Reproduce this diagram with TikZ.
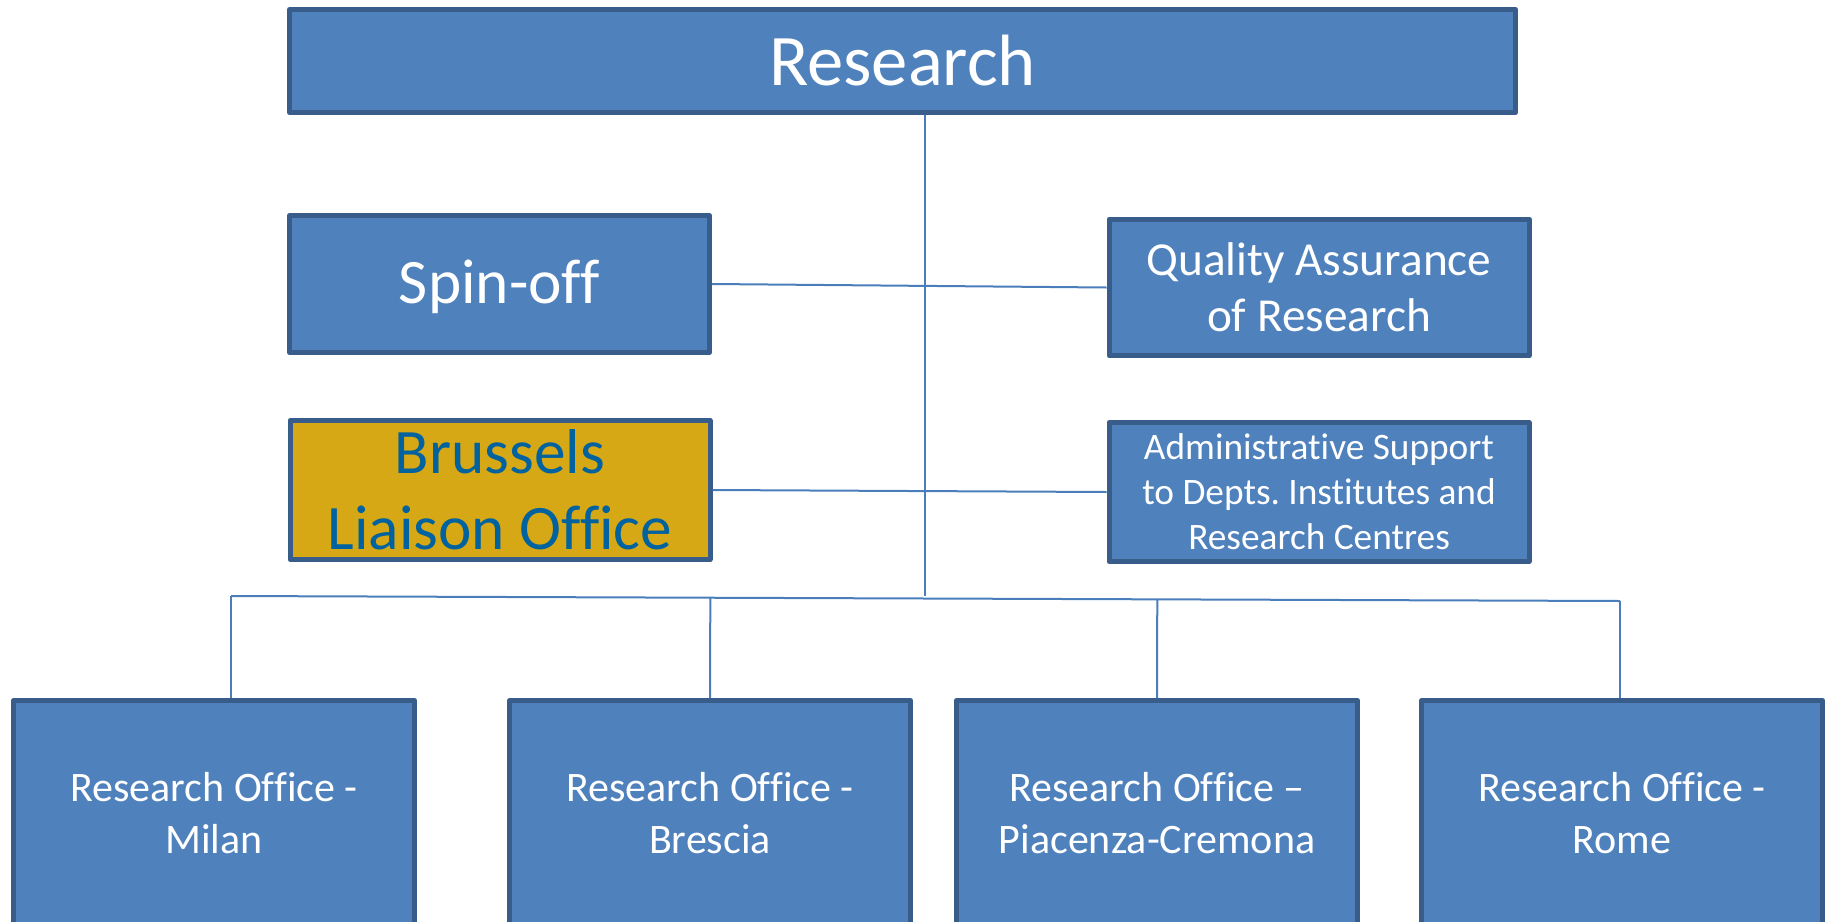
\documentclass[tikz,border=0pt]{standalone}
\usepackage{fontspec}
\setmainfont{Carlito}[Ligatures=NoCommon]
\usetikzlibrary{calc}
\frenchspacing

\definecolor{boxfill}{RGB}{79,129,189}
\definecolor{boxline}{RGB}{56,93,138}
\definecolor{linkline}{RGB}{74,126,187}
\definecolor{liaisonfill}{RGB}{214,168,22}
\definecolor{liaisontext}{RGB}{0,98,158}

\tikzset{every picture/.style={line width=0.75pt}}
\tikzset{
  unitbox/.style={draw=boxline, fill=boxfill, line width=3.75pt, line join=round,
    text=white, align=center, inner sep=0pt},
  sidebox/.style={unitbox, minimum width=315pt, minimum height=102.5pt},
  officebox/.style={unitbox, minimum width=300.75pt, minimum height=168.75pt,
    font=\fontsize{31.5}{38.5}\selectfont},
  link/.style={draw=linkline, line width=1.5pt},
}

\begin{document}
\begin{tikzpicture}[x=0.75pt,y=0.75pt,yscale=-1,xscale=1]
\useasboundingbox (0,0) rectangle (1831,921);

%Shape: Rectangle [top unit]
\node [unitbox, minimum width=919.5pt, minimum height=77.25pt, font=\fontsize{54.5}{65}\selectfont] (research) at (902.5,61) {Research};

%Shape: Rectangle [staff units]
\node [sidebox, font=\fontsize{47.5}{57}\selectfont, text depth=4pt] (spinoff) at (499.5,284) {Spin-off};
\node [sidebox, font=\fontsize{35.5}{42}\selectfont] (quality) at (1319,287.5) {Quality Assurance\\of Research};
\node [sidebox, fill=liaisonfill, text=liaisontext, minimum height=104.25pt, font=\fontsize{47.5}{57}\selectfont] (brussels) at (500,490) {Brussels\\Liaison Office};
\node [sidebox, minimum height=104.25pt, font=\fontsize{28}{33.75}\selectfont] (admin) at (1319,492) {Administrative Support\\to Depts. Institutes and\\Research Centres};

%Shape: Rectangle [local offices]
\node [officebox] (milan) at (214,813) {Research Office -\\Milan};
\node [officebox] (brescia) at (710,813) {Research Office -\\Brescia};
\node [officebox] (piacenza) at (1157,813) {Research Office --\\Piacenza-Cremona};
\node [officebox] (rome) at (1622,813) {Research Office -\\Rome};

%Straight Lines [trunk and bus]
\coordinate (trunk) at (925,596);
\coordinate (busL) at (231,596);
\coordinate (busR) at (1620,601);
\draw [link] (trunk |- research.south) -- (trunk);
\draw [link] (busL) -- (busR);

%Straight Lines [staff links]
\draw [link] (spinoff.east) -- (quality.west);
\draw [link] (brussels.east) -- (admin.west);

%Straight Lines [office drops]
\draw [link] (busL) -- (busL |- milan.north);
\draw [link] ($(busL)!(brescia.north)!(busR)$) -- (brescia.north);
\draw [link] ($(busL)!(piacenza.north)!(busR)$) -- (piacenza.north);
\draw [link] (busR) -- (busR |- rome.north);

\end{tikzpicture}
\end{document}
